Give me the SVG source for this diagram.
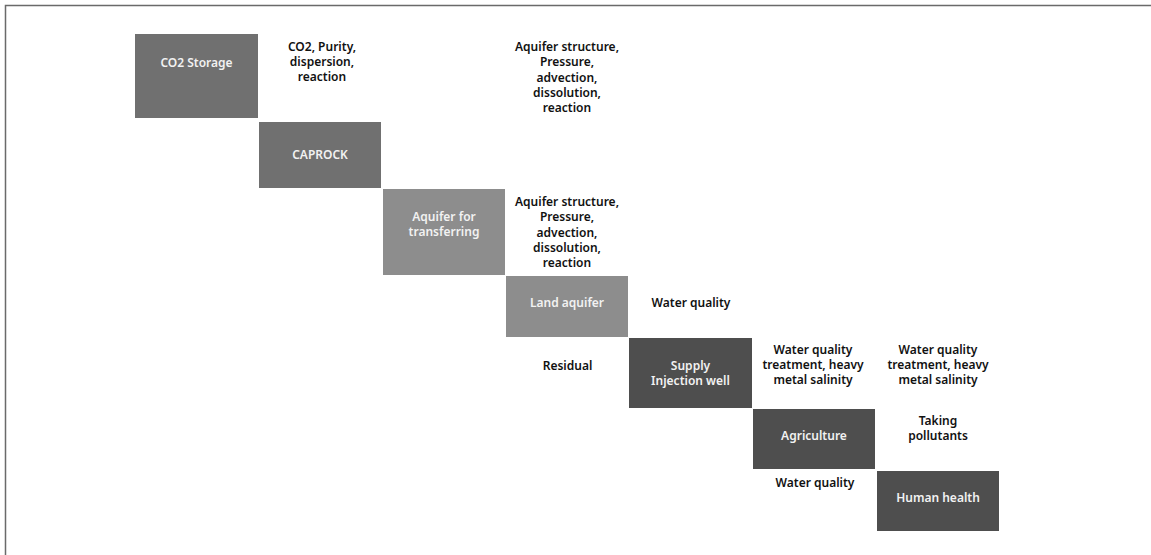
<svg xmlns="http://www.w3.org/2000/svg" width="1151" height="555" viewBox="0 0 1151 555">
<style>
.frame{fill:none;stroke:#6a6a6a;stroke-width:1.5}
.mid{fill:#707070}
.light{fill:#8d8d8d}
.dark{fill:#4e4e4e}
.nl{font-family:"Noto Sans","Open Sans","Liberation Sans",sans-serif;font-size:12px;font-weight:600;fill:#f2f2f2;text-anchor:middle}
.lb{font-family:"Noto Sans","Open Sans","Liberation Sans",sans-serif;font-size:12px;font-weight:600;fill:#111;text-anchor:middle}
</style>
<rect width="1151" height="555" fill="#fff"/>
<path class="frame" d="M5.5,555 V5.5 H1151"/>
<g id="nodes">
<g id="n-co2"><rect class="mid" x="135" y="34" width="123" height="84"/><text class="nl" x="196.5" y="67">CO2 Storage</text></g>
<g id="n-caprock"><rect class="mid" x="259" y="122" width="122" height="66"/><text class="nl" x="320" y="159">CAPROCK</text></g>
<g id="n-aqt"><rect class="light" x="383" y="189" width="122" height="86"/><text class="nl" x="444" y="221">Aquifer for</text><text class="nl" x="444" y="236">transferring</text></g>
<g id="n-land"><rect class="light" x="506" y="276" width="122" height="61"/><text class="nl" x="567" y="307">Land aquifer</text></g>
<g id="n-supply"><rect class="dark" x="629" y="338" width="123" height="70"/><text class="nl" x="690.5" y="370">Supply</text><text class="nl" x="690.5" y="385">Injection well</text></g>
<g id="n-agri"><rect class="dark" x="753" y="409" width="122" height="60"/><text class="nl" x="814" y="440">Agriculture</text></g>
<g id="n-human"><rect class="dark" x="877" y="471" width="122" height="60"/><text class="nl" x="938" y="502">Human health</text></g>
</g>
<g id="connectors"></g>
<g id="labels">
<text class="lb" x="322" y="51">CO2, Purity,</text>
<text class="lb" x="322" y="66">dispersion,</text>
<text class="lb" x="322" y="81">reaction</text>
<text class="lb" x="567" y="51">Aquifer structure,</text>
<text class="lb" x="567" y="66">Pressure,</text>
<text class="lb" x="567" y="81.5">advection,</text>
<text class="lb" x="567" y="97">dissolution,</text>
<text class="lb" x="567" y="112">reaction</text>
<text class="lb" x="567" y="206">Aquifer structure,</text>
<text class="lb" x="567" y="221">Pressure,</text>
<text class="lb" x="567" y="236.5">advection,</text>
<text class="lb" x="567" y="252">dissolution,</text>
<text class="lb" x="567" y="267">reaction</text>
<text class="lb" x="691" y="307">Water quality</text>
<text class="lb" x="567.5" y="370">Residual</text>
<text class="lb" x="813" y="354">Water quality</text>
<text class="lb" x="813" y="369">treatment, heavy</text>
<text class="lb" x="813" y="384">metal salinity</text>
<text class="lb" x="938" y="354">Water quality</text>
<text class="lb" x="938" y="369">treatment, heavy</text>
<text class="lb" x="938" y="384">metal salinity</text>
<text class="lb" x="938" y="425">Taking</text>
<text class="lb" x="938" y="440">pollutants</text>
<text class="lb" x="815" y="487">Water quality</text>
</g>
</svg>
